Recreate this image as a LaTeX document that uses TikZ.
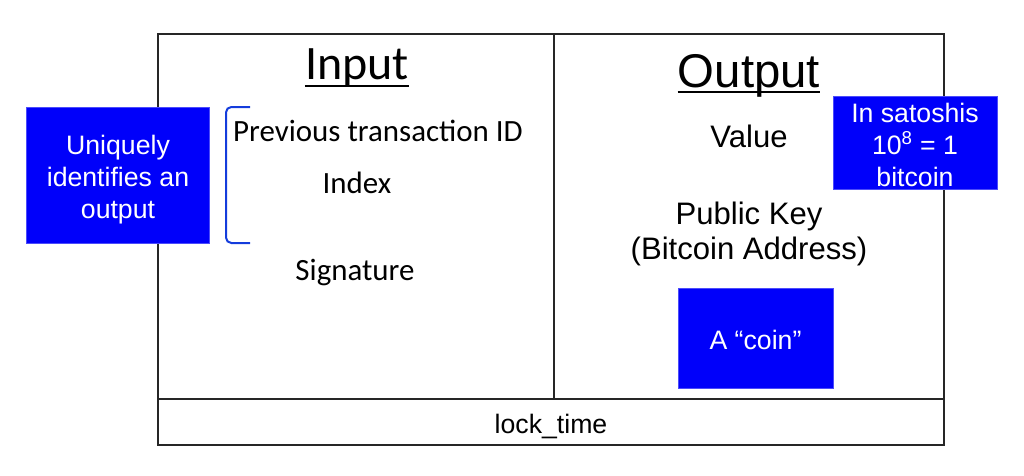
\documentclass[tikz,border=0pt]{standalone}
\usepackage{fontspec}
\setmainfont{Liberation Sans}
\newfontfamily\carlitofont{Carlito}
\definecolor{boxblue}{RGB}{0,0,250}
\definecolor{brblue}{RGB}{20,60,220}
\begin{document}
\begin{tikzpicture}[x=0.75pt,y=-0.75pt,
  frame/.style={draw=black!85,line width=1.3pt},
  bluebox/.style={fill=boxblue,draw=boxblue!70},
  boxtext/.style={text=white,align=center,inner sep=0pt,font=\fontsize{20}{24}\selectfont},
  calt/.style={font=\carlitofont\fontsize{23.2}{26}\selectfont,inner sep=0pt,anchor=base},
  helt/.style={font=\fontsize{23.3}{26.4}\selectfont,align=center,inner sep=0pt}]
\useasboundingbox (0,0) rectangle (1024,475);
% frame
\draw[frame] (158,34) rectangle (944,445);
\draw[frame] (158,399) -- (944,399);
\draw[frame] (554,34) -- (554,399);
% headings
\node[font=\carlitofont\fontsize{36}{40}\selectfont,inner sep=0pt,anchor=base] (in) at (357,79) {Input};
\draw[line width=1.6pt] ([yshift=-5.5pt]in.base west) -- ([yshift=-5.5pt]in.base east);
\node[font=\fontsize{35.5}{40}\selectfont,inner sep=0pt,anchor=base] (out) at (749,87) {Output};
\draw[line width=1.6pt] ([yshift=-4pt]out.base west) -- ([yshift=-4pt]out.base east);
% input fields
\node[calt] (prev) at (378,141) {Previous transaction ID};
\node[calt] (idx) at (357,193) {Index};
\node[calt] (sig) at (355,280) {Signature};
% output fields
\node[helt,anchor=base] (val) at (749,147) {Value};
\node[helt] (pk) at (749,234) {Public Key\\(Bitcoin Address)};
\node[font=\fontsize{20}{24}\selectfont,inner sep=0pt,anchor=base] (lt) at (551,433) {lock\_time};
% blue boxes
\node[bluebox, minimum width=137pt, minimum height=102pt] (uniq) at (118,175.5) {};
\node[boxtext] (uniqt) at ([yshift=-3pt]uniq.center) {Uniquely\\identifies an\\output};
\node[bluebox, minimum width=123pt, minimum height=70pt] (sat) at (915,143) {};
\node[boxtext] (satt) at ([yshift=-1.5pt]sat.center) {In satoshis\\10\textsuperscript{8} = 1\\bitcoin};
\node[bluebox, minimum width=116pt, minimum height=75pt] (coin) at (755.5,338) {};
\node[boxtext,anchor=base] (coint) at (755.5,349) {A “coin”};
% bracket
\draw[brblue,line width=1.5pt,rounded corners=4pt] (250,107) -- (226,107) -- (226,243) -- (250,243);
\end{tikzpicture}
\end{document}
